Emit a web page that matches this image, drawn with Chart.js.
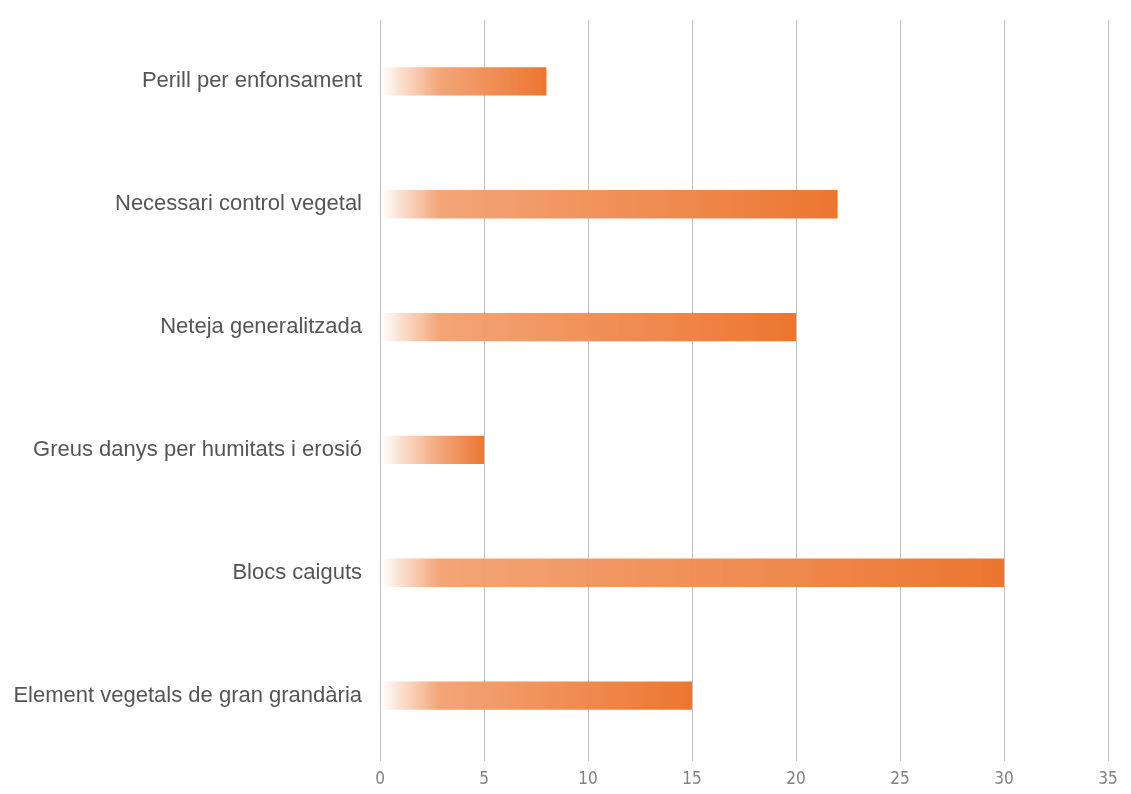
<!DOCTYPE html>
<html>
<head>
<meta charset="utf-8">
<script src="https://cdn.jsdelivr.net/npm/chart.js@4/dist/chart.umd.min.js"></script>
<style>
  html, body { margin: 0; padding: 0; background: #fff; }
  #wrap { width: 1131px; height: 794px; }
</style>
</head>
<body>
<div id="wrap"><canvas id="dangerChart"></canvas></div>
<script>
const categories = [
    "Perill per enfonsament",
    "Necessari control vegetal",
    "Neteja generalitzada",
    "Greus danys per humitats i erosió",
    "Blocs caiguts",
    "Element vegetals de gran grandària"
];
const counts = [8, 22, 20, 5, 30, 15];
const xTicks = [0, 5, 10, 15, 20, 25, 30, 35];

function barGradient(context) {
    const chart = context.chart;
    const x = chart.scales.x;
    if (!x || !chart.chartArea || context.dataIndex === undefined) {
        return 'rgba(238, 122, 53, 1)';
    }
    const value = counts[context.dataIndex];
    const x0 = x.getPixelForValue(0);
    const x1 = x.getPixelForValue(value);
    const g = chart.ctx.createLinearGradient(x0, 0, x1, 0);
    // fade in from white over the first ~60px, then deepen toward the end
    const fade = Math.min(0.9, 60 / Math.max(1, x1 - x0));
    g.addColorStop(0, 'rgba(244, 160, 110, 0)');
    g.addColorStop(fade, 'rgba(242, 160, 112, 0.95)');
    g.addColorStop(1, 'rgba(236, 118, 48, 1)');
    return g;
}

const ctx = document.getElementById('dangerChart').getContext('2d');
new Chart(ctx, {
    type: 'bar',
    data: {
        labels: categories,
        datasets: [{
            data: counts,
            backgroundColor: barGradient,
            borderWidth: 0,
            barPercentage: 0.46,
            categoryPercentage: 0.5
        }]
    },
    options: {
        indexAxis: 'y',
        responsive: true,
        maintainAspectRatio: false,
        animation: false,
        layout: { padding: { top: 20, right: 23, bottom: 0, left: 0 } },
        plugins: {
            legend: { display: false },
            tooltip: { enabled: false }
        },
        scales: {
            x: {
                min: 0,
                max: 35,
                afterBuildTicks: scale => { scale.ticks = xTicks.map(v => ({ value: v })); },
                afterFit: scale => { scale.height = 37; },
                border: { display: false },
                grid: {
                    color: '#c4c2c0',
                    lineWidth: 1,
                    drawTicks: true,
                    tickLength: 4
                },
                ticks: {
                    color: '#808080',
                    padding: 8,
                    font: { family: '"Liberation Sans Narrow", "DejaVu Sans Condensed", "Liberation Sans", sans-serif', size: 17 }
                }
            },
            y: {
                afterFit: scale => {
                    scale.width = 380;
                    scale.paddingTop = 0;
                    scale.paddingBottom = 0;
                },
                border: { display: false },
                grid: { display: false },
                ticks: {
                    color: '#555555',
                    padding: 10,
                    font: { family: '"Liberation Sans", Arial, sans-serif', size: 22 }
                }
            }
        }
    }
});
</script>
</body>
</html>
